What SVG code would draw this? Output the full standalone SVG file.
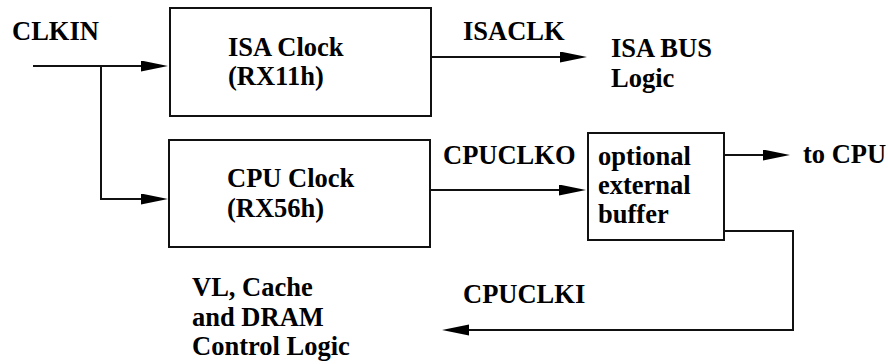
<svg xmlns="http://www.w3.org/2000/svg" width="888" height="364" viewBox="0 0 888 364">
<style>
text{font-family:'Liberation Serif','Times New Roman',Times,serif;font-weight:700;font-size:26.5px;fill:#000}
.box{fill:#fff;stroke:#111;stroke-width:2}
.wire{fill:none;stroke:#111;stroke-width:2}
</style>
<defs>
<marker id="arr" markerUnits="userSpaceOnUse" markerWidth="28" markerHeight="12" refX="17" refY="5.5" orient="auto">
<path d="M0,0 L27,5.5 L0,11 z" fill="#000"/>
</marker>
</defs>
<rect width="888" height="364" fill="#fff"/>
<g id="connectors">
<path class="wire" d="M33,66 H158" marker-end="url(#arr)"/>
<path class="wire" d="M101,66 V199 H158" marker-end="url(#arr)"/>
<path class="wire" d="M431,57 H577" marker-end="url(#arr)"/>
<path class="wire" d="M430,190 H576" marker-end="url(#arr)"/>
<path class="wire" d="M724,155 H780" marker-end="url(#arr)"/>
<path class="wire" d="M724,231 H793 V330 H452" marker-end="url(#arr)"/>
</g>
<g id="clkin"><text x="12" y="40">CLKIN</text></g>
<g id="isa-clock">
<rect class="box" x="170" y="8" width="261" height="108"/>
<text x="228" y="56">ISA Clock</text>
<text x="228" y="85">(RX11h)</text>
</g>
<g id="isaclk-label"><text x="463" y="40">ISACLK</text></g>
<g id="isa-bus">
<text x="611" y="57">ISA BUS</text>
<text x="611" y="87">Logic</text>
</g>
<g id="cpu-clock">
<rect class="box" x="169" y="140" width="261" height="107"/>
<text x="227" y="187">CPU Clock</text>
<text x="227" y="217">(RX56h)</text>
</g>
<g id="cpuclko-label"><text x="443" y="164">CPUCLKO</text></g>
<g id="buffer">
<rect class="box" x="588" y="133" width="136" height="107"/>
<text x="598" y="165">optional</text>
<text x="598" y="194">external</text>
<text x="598" y="223">buffer</text>
</g>
<g id="to-cpu"><text x="803" y="163">to CPU</text></g>
<g id="cpuclki-label"><text x="463" y="303">CPUCLKI</text></g>
<g id="control-logic">
<text x="192" y="296">VL, Cache</text>
<text x="192" y="326">and DRAM</text>
<text x="192" y="355">Control Logic</text>
</g>
</svg>
